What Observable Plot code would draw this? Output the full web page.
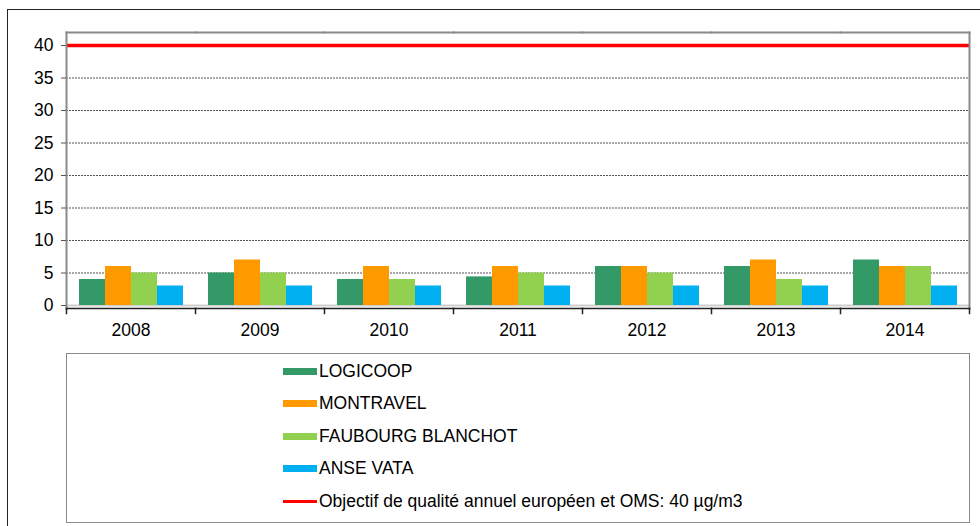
<!DOCTYPE html>
<html>
<head>
<meta charset="utf-8">
<script src="https://cdn.jsdelivr.net/npm/d3@7"></script>
<script src="https://cdn.jsdelivr.net/npm/@observablehq/plot@0.6"></script>
<style>
  html, body { margin: 0; padding: 0; background: #fff; width: 980px; height: 526px; overflow: hidden; }
  body { font-family: "Liberation Sans", Arial, sans-serif; position: relative; }
  #outer { position: absolute; left: 7px; top: 9px; width: 1000px; height: 600px; border: 1.5px solid #222; box-sizing: border-box; }
  #plot { position: absolute; left: 8px; top: 10px; }
  #legend { position: absolute; left: 66px; top: 353px; width: 904px; height: 170px; border: 1.5px solid #8a8a8a; box-sizing: border-box; padding-top: 1px; }
  .row { height: 32.5px; display: flex; align-items: center; padding-left: 216px; font-size: 17.5px; color: #000; }
  .sw { width: 34px; height: 7px; margin-right: 2px; }
  .ln { width: 34px; height: 3px; margin-right: 2px; }
</style>
</head>
<body>
<div id="outer"></div>
<div id="plot"></div>
<div id="legend"></div>
<script>
const years = ["2008", "2009", "2010", "2011", "2012", "2013", "2014"];
const stations = ["LOGICOOP", "MONTRAVEL", "FAUBOURG BLANCHOT", "ANSE VATA"];
const logicoop = [4, 5, 4, 4.4, 6, 6, 7];
const montravel = [6, 7, 6, 6, 6, 7, 6];
const faubourgBlanchot = [5, 5, 4, 5, 5, 4, 6];
const anseVata = [3, 3, 3, 3, 3, 3, 3];
const stationColors = ["#339966", "#FF9900", "#92D050", "#00B0F0"];
const yTicks = [0, 5, 10, 15, 20, 25, 30, 35, 40];
const target = 40;
const targetLabel = "Objectif de qualité annuel européen et OMS: 40 µg/m3";
const targetColor = "#ff0000";

const series = [logicoop, montravel, faubourgBlanchot, anseVata];
const data = [];
years.forEach((year, i) => {
  stations.forEach((station, k) => {
    data.push({ year, station, value: series[k][i] });
  });
});

const H = 330, MT = 22, MB = 32;
const facetH = H - MT - MB;

const chart = Plot.plot({
  width: 972,
  height: H,
  marginLeft: 58,
  marginRight: 11,
  marginTop: MT,
  marginBottom: MB,
  style: { fontFamily: "'Liberation Sans', Arial, sans-serif", fontSize: "17.5px", color: "#000", background: "transparent", overflow: "visible" },
  fx: { domain: years, padding: 0, label: null },
  x: { domain: stations, paddingInner: 0, paddingOuter: 0.48, axis: null },
  y: { domain: [0, 42], insetBottom: 3, label: null, axis: null },
  color: { domain: stations, range: stationColors },
  marks: [
    Plot.ruleY(yTicks.filter(t => t > 0 && t < target), { stroke: "#555", strokeDasharray: "2,1", strokeWidth: 1 }),
    Plot.ruleY([0], { stroke: "#cfcfcf", strokeWidth: 2 }),
    Plot.barY(data, { fx: "year", x: "station", y: "value", fill: "station", inset: 0 }),
    Plot.ruleY([target], { stroke: targetColor, strokeWidth: 3.5 }),
    Plot.frame({ anchor: "top", stroke: "#8a8a8a", strokeWidth: 2 }),
    Plot.frame({ anchor: "left", stroke: "#8a8a8a", strokeWidth: 2, facetAnchor: "left" }),
    Plot.frame({ anchor: "right", stroke: "#8a8a8a", strokeWidth: 2, facetAnchor: "right" }),
    Plot.frame({ anchor: "bottom", stroke: "#222", strokeWidth: 1.5 }),
    Plot.frame({ anchor: "left", stroke: "#222", strokeWidth: 1.5, insetTop: facetH, insetBottom: -5 }),
    Plot.frame({ anchor: "right", stroke: "#222", strokeWidth: 1.5, insetTop: facetH, insetBottom: -5, facetAnchor: "right" }),
    Plot.axisY({ ticks: yTicks, tickSize: 5, tickPadding: 8, stroke: "#555", fontSize: 17.5, label: null, tickFormat: d => d }),
    Plot.axisFx({ anchor: "bottom", tickSize: 0, tickPadding: 15, fontSize: 17.5, label: null })
  ]
});
document.getElementById("plot").appendChild(chart);

const legend = document.getElementById("legend");
stations.forEach((s, k) => {
  const row = document.createElement("div");
  row.className = "row";
  row.innerHTML = `<div class="sw" style="background:${stationColors[k]}"></div><span>${s}</span>`;
  legend.appendChild(row);
});
const row = document.createElement("div");
row.className = "row";
row.innerHTML = `<div class="ln" style="background:${targetColor}"></div><span>${targetLabel}</span>`;
legend.appendChild(row);
</script>
</body>
</html>
